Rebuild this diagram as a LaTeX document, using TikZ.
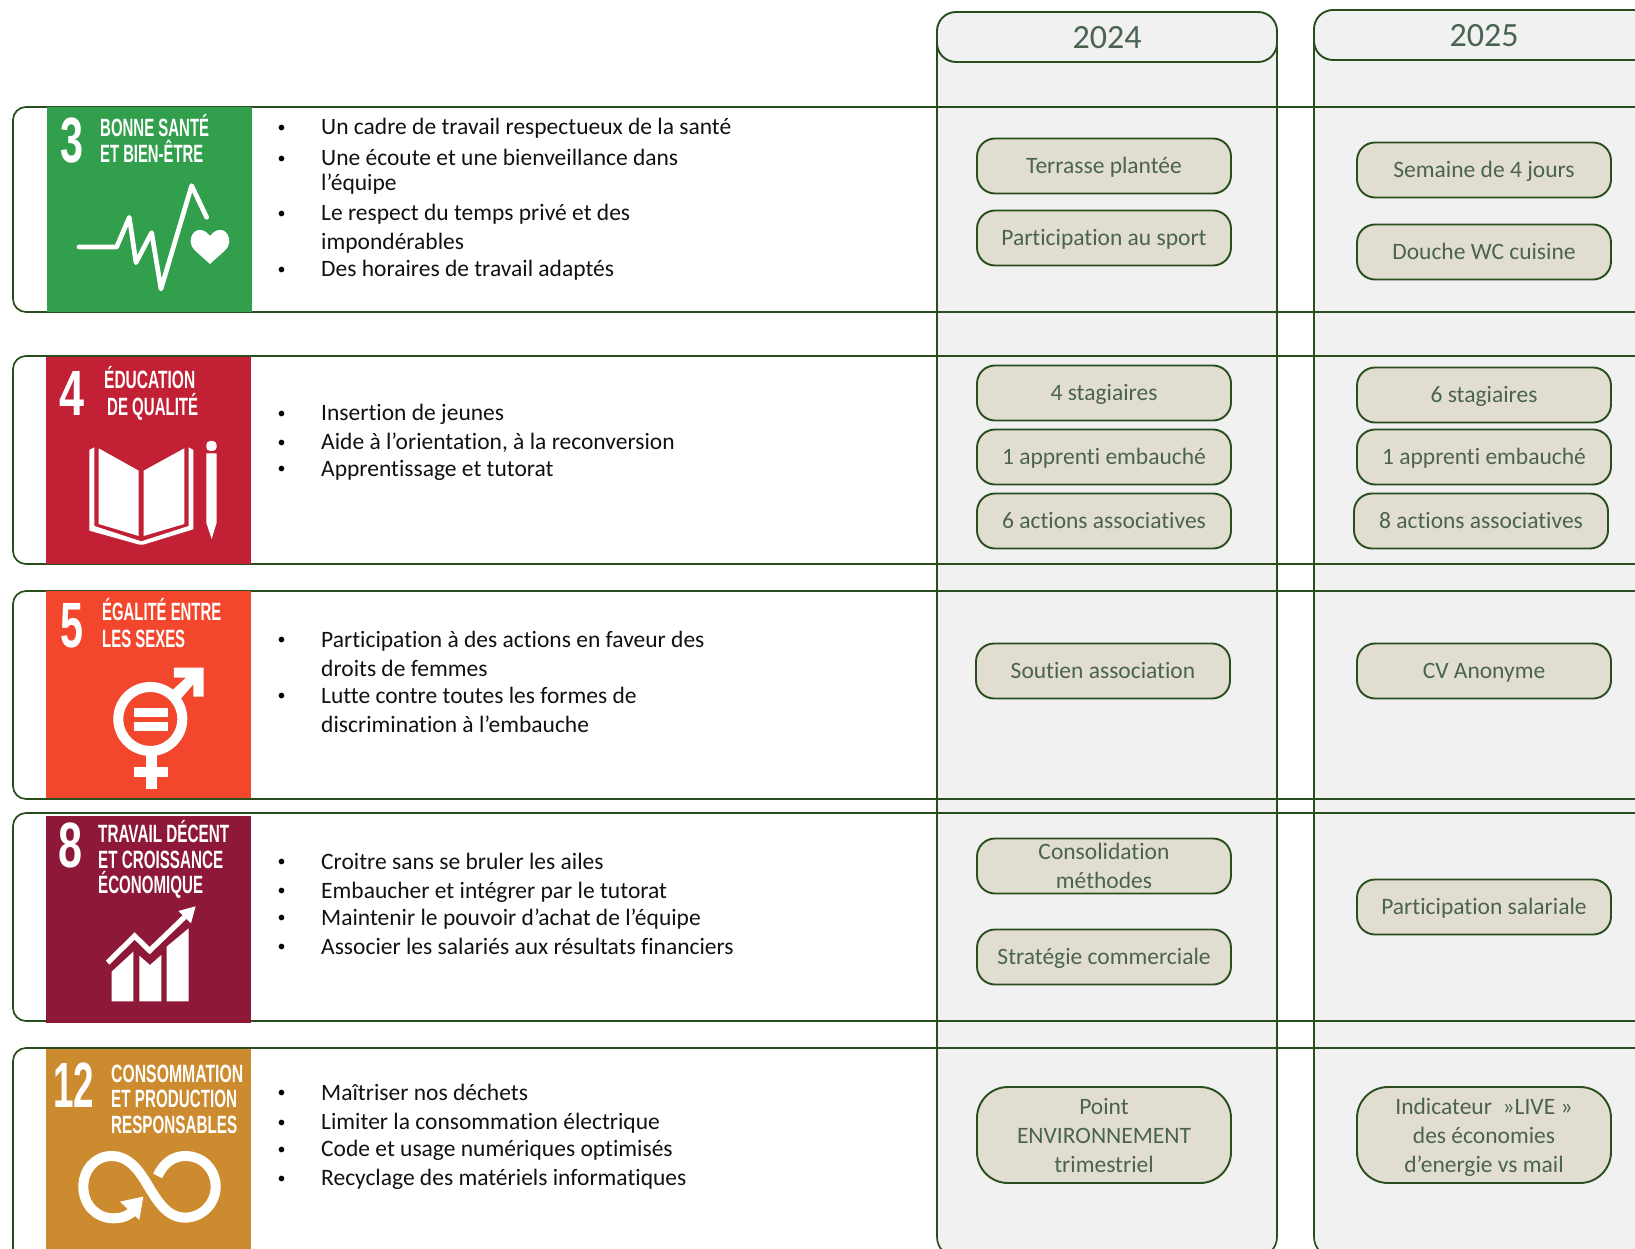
\documentclass[tikz,border=0pt]{standalone}
\usepackage{fontspec}
\usepackage{graphicx}
\setmainfont[Ligatures=NoCommon]{Carlito}
\newfontfamily\sdgfont{Liberation Sans}
\definecolor{lin}{HTML}{2A4D1E}
\definecolor{pan}{HTML}{F1F1F1}
\definecolor{pil}{HTML}{E2DDD1}
\definecolor{ink}{HTML}{4A6350}
\definecolor{body}{HTML}{111111}
\definecolor{gA}{HTML}{319F4B}
\definecolor{gB}{HTML}{C22035}
\definecolor{gC}{HTML}{F2472D}
\definecolor{gD}{HTML}{8E1838}
\definecolor{gE}{HTML}{CB8B2E}
\newcommand{\sdgline}[2]{\resizebox{#1pt}{\height}{#2}}
\tikzset{
  rowline/.style={draw=lin,line width=1.7pt,rounded corners=13pt},
  colbox/.style={draw=lin,line width=1.7pt,fill=pan},
  headbox/.style={draw=lin,line width=1.9pt,fill=pan,rounded corners=19pt},
  pillbase/.style={draw=lin,line width=1.9pt,fill=pil,rounded corners=18pt,text=ink,align=center,inner sep=0pt,
    minimum width=254pt,minimum height=55pt,font=\fontsize{23.5}{29}\selectfont},
  pill/.style={pillbase,text height=15pt,text depth=0pt},
  pilltwo/.style={pillbase},
  pillbig/.style={pillbase,rounded corners=31pt,minimum height=96pt},
  head/.style={text=ink,inner sep=0pt,font=\fontsize{34}{40}\selectfont},
  txt/.style={anchor=base west,inner sep=0pt,text=body,font=\fontsize{23.5}{28}\selectfont},
  dot/.style={anchor=base,inner sep=0pt,text=black,yshift=2.4pt,font=\fontsize{16}{20}\selectfont},
  sdg/.style={anchor=base west,inner sep=0pt,text=white,font=\sdgfont\bfseries\fontsize{25}{25}\selectfont},
  num/.style={anchor=base west,inner sep=0pt,text=white,font=\sdgfont\bfseries\fontsize{64}{64}\selectfont},
  ic/.style={shift={(0,#1)},x=0.3333pt,y=-0.3333pt},
}
\begin{document}
\begin{tikzpicture}[x=1pt,y=-1pt]
\useasboundingbox (0,0) rectangle (1635,1249);
\clip (0,0) rectangle (1635,1249);
% year columns
\path[colbox] (937,37) -- (937,1237) arc[start angle=180,end angle=270,radius=20pt] -- (1257,1257) arc[start angle=270,end angle=360,radius=20pt] -- (1277,37) -- cycle;
\path[colbox] (1314,35) -- (1314,1237) arc[start angle=180,end angle=270,radius=20pt] -- (1660,1257) -- (1660,35) -- cycle;
% row frames
\draw[rowline] (1660,107) -- (13,107) -- (13,312) -- (1660,312);
\draw[rowline] (1660,356) -- (13,356) -- (13,564) -- (1660,564);
\draw[rowline] (1660,591) -- (13,591) -- (13,799) -- (1660,799);
\draw[rowline] (1660,813) -- (13,813) -- (13,1021) -- (1660,1021);
\draw[rowline] (1660,1048) -- (13,1048) -- (13,1262) -- (1660,1262);
% headers
\path[headbox] (937,12) rectangle (1277,62);
\path[headbox] (1660,10) -- (1314,10) -- (1314,60) -- (1660,60);
\node[head] (y24) at (1107,38) {2024};
\node[head] (y25) at (1484,36) {2025};
% tiles
\fill[gA] (47,107) rectangle (252,312);
\fill[gB] (46,357) rectangle (251,564);
\fill[gC] (46,591) rectangle (251,798);
\fill[gD] (46,816) rectangle (251,1023);
\fill[gE] (46,1049) rectangle (251,1249);
% tile 3
\node[num] (n3) at (60,163) {\sdgline{23}{3}};
\node[sdg] (t3a) at (100,137) {\sdgline{109}{BONNE SANTÉ}};
\node[sdg] (t3b) at (100,163) {\sdgline{103}{ET BIEN-ÊTRE}};
\begin{scope}[ic=90]
\draw[white,line width=4.7pt,line cap=round,line join=round] (237,471) -- (350,471) -- (388,382) -- (408,518) -- (455,428) -- (483,597) -- (575,287) -- (620,382);
\fill[white] (630,438) .. controls (605,405) and (572,420) .. (572,455) .. controls (572,475) and (590,485) .. (630,522) .. controls (670,485) and (688,475) .. (688,455) .. controls (688,420) and (655,405) .. (630,438) -- cycle;
\end{scope}
% tile 4
\node[num] (n4) at (59,415) {\sdgline{25}{4}};
\node[sdg] (t4a) at (104,388) {\sdgline{91}{ÉDUCATION}};
\node[sdg] (t4b) at (107,415) {\sdgline{91}{DE QUALITÉ}};
\begin{scope}[ic=340]
\fill[white] (268,330) -- (283,322) -- (283,558) -- (424,604) -- (566,558) -- (566,322) -- (580,330) -- (580,568) -- (430,614) -- (418,614) -- (268,572) -- cycle;
\fill[white] (296,325) -- (416,392) -- (416,588) -- (296,552) -- cycle;
\fill[white] (431,392) -- (553,325) -- (553,552) -- (431,588) -- cycle;
\fill[white,rounded corners=4pt] (619,333) -- (619,303) -- (650,303) -- (650,333) -- cycle;
\fill[white] (619,340) -- (650,340) -- (650,548) -- (635,597) -- (619,548) -- cycle;
\end{scope}
% tile 5
\node[num] (n5) at (60,647) {\sdgline{23}{5}};
\node[sdg] (t5a) at (102,620) {\sdgline{119}{ÉGALITÉ ENTRE}};
\node[sdg] (t5b) at (102,647) {\sdgline{83}{LES SEXES}};
\begin{scope}[ic=340]
\draw[white,line width=10pt] (451,1137) circle[radius=96];
\fill[white] (401,1105) rectangle (503,1132);
\fill[white] (401,1147) rectangle (503,1173);
\fill[white] (522,983) -- (611,983) -- (611,1070) -- (580,1070) -- (580,1033) -- (541,1078) -- (518,1050) -- (558,1013) -- (522,1013) -- cycle;
\fill[white] (437,1240) rectangle (470,1346);
\fill[white] (402,1280) rectangle (505,1312);
\end{scope}
% tile 8
\node[num] (n8) at (58,867) {\sdgline{24}{8}};
\node[sdg] (t8a) at (98,842) {\sdgline{131}{TRAVAIL DÉCENT}};
\node[sdg] (t8b) at (98,868) {\sdgline{125}{ET CROISSANCE}};
\node[sdg] (t8c) at (98,893) {\sdgline{105}{ÉCONOMIQUE}};
\begin{scope}[ic=800]
\fill[white] (335,604) -- (335,515) -- (400,455) -- (400,604) -- cycle;
\fill[white] (418,604) -- (418,467) -- (450,495) -- (484,465) -- (484,604) -- cycle;
\fill[white] (500,604) -- (500,440) -- (566,385) -- (566,604) -- cycle;
\draw[white,line width=5.3pt] (323,488) -- (404,408) -- (449,452) -- (560,345);
\fill[white] (587,319) -- (535,333) -- (573,370) -- cycle;
\end{scope}
% tile 12
\node[num] (n12) at (53,1107) {\sdgline{41}{12}};
\node[sdg] (t12a) at (111,1082) {\sdgline{132}{CONSOMMATION}};
\node[sdg] (t12b) at (111,1107) {\sdgline{126}{ET PRODUCTION}};
\node[sdg] (t12c) at (111,1133) {\sdgline{126}{RESPONSABLES}};
\begin{scope}[ic=800]
\draw[white,line width=10pt] (473,1128) .. controls (490,1090) and (520,1068) .. (555,1068) .. controls (610,1068) and (647,1110) .. (647,1160) .. controls (647,1212) and (605,1253) .. (555,1253) .. controls (500,1253) and (470,1200) .. (440,1150) .. controls (410,1100) and (380,1068) .. (335,1068) .. controls (285,1068) and (250,1110) .. (250,1160) .. controls (250,1215) and (290,1255) .. (340,1255) .. controls (370,1255) and (390,1245) .. (405,1228);
\fill[white] (360,1205) -- (430,1190) -- (418,1260) -- cycle;
\end{scope}
% bullet texts row 3
\node[dot] (b3a) at (281.5,135) {•}; \node[txt] (l3a) at (321,135) {Un cadre de travail respectueux de la santé};
\node[dot] (b3b) at (281.5,165.5) {•}; \node[txt] (l3b) at (321,165.5) {Une écoute et une bienveillance dans};
\node[txt] (l3c) at (321,191) {l’équipe};
\node[dot] (b3d) at (281.5,221) {•}; \node[txt] (l3d) at (321,221) {Le respect du temps privé et des};
\node[txt] (l3e) at (321,249.5) {impondérables};
\node[dot] (b3f) at (281.5,276.5) {•}; \node[txt] (l3f) at (321,276.5) {Des horaires de travail adaptés};
% row 4
\node[dot] (b4a) at (281.5,420.5) {•}; \node[txt] (l4a) at (321,420.5) {Insertion de jeunes};
\node[dot] (b4b) at (281.5,449.5) {•}; \node[txt] (l4b) at (321,449.5) {Aide à l’orientation, à la reconversion};
\node[dot] (b4c) at (281.5,476) {•}; \node[txt] (l4c) at (321,476) {Apprentissage et tutorat};
% row 5
\node[dot] (b5a) at (281.5,647) {•}; \node[txt] (l5a) at (321,647) {Participation à des actions en faveur des};
\node[txt] (l5b) at (321,676) {droits de femmes};
\node[dot] (b5c) at (281.5,703) {•}; \node[txt] (l5c) at (321,703) {Lutte contre toutes les formes de};
\node[txt] (l5d) at (321,732) {discrimination à l’embauche};
% row 8
\node[dot] (b8a) at (281.5,869) {•}; \node[txt] (l8a) at (321,869) {Croitre sans se bruler les ailes};
\node[dot] (b8b) at (281.5,898) {•}; \node[txt] (l8b) at (321,898) {Embaucher et intégrer par le tutorat};
\node[dot] (b8c) at (281.5,925) {•}; \node[txt] (l8c) at (321,925) {Maintenir le pouvoir d’achat de l’équipe};
\node[dot] (b8d) at (281.5,954) {•}; \node[txt] (l8d) at (321,954) {Associer les salariés aux résultats financiers};
% row 12
\node[dot] (b12a) at (281.5,1100) {•}; \node[txt] (l12a) at (321,1100) {Maîtriser nos déchets};
\node[dot] (b12b) at (281.5,1129.5) {•}; \node[txt] (l12b) at (321,1129.5) {Limiter la consommation électrique};
\node[dot] (b12c) at (281.5,1156.5) {•}; \node[txt] (l12c) at (321,1156.5) {Code et usage numériques optimisés};
\node[dot] (b12d) at (281.5,1185.5) {•}; \node[txt] (l12d) at (321,1185.5) {Recyclage des matériels informatiques};
% pills 2024
\node[pill] (p1) at (1104,166) {Terrasse plantée};
\node[pill] (p2) at (1104,238) {Participation au sport};
\node[pill] (p3) at (1104,393) {4 stagiaires};
\node[pill] (p4) at (1104,457) {1 apprenti embauché};
\node[pill] (p5) at (1104,521) {6 actions associatives};
\node[pill] (p6) at (1103,671) {Soutien association};
\node[pilltwo] (p7) at (1104,866) {Consolidation\\méthodes};
\node[pill] (p8) at (1104,957) {Stratégie commerciale};
\node[pillbig] (p9) at (1104,1135) {Point\\ENVIRONNEMENT\\trimestriel};
% pills 2025
\node[pill] (q1) at (1484,170) {Semaine de 4 jours};
\node[pill] (q2) at (1484,252) {Douche WC cuisine};
\node[pill] (q3) at (1484,395) {6 stagiaires};
\node[pill] (q4) at (1484,457) {1 apprenti embauché};
\node[pill] (q5) at (1481,521) {8 actions associatives};
\node[pill] (q6) at (1484,671) {CV Anonyme};
\node[pill] (q7) at (1484,907) {Participation salariale};
\node[pillbig] (q8) at (1484,1135) {\rule{0pt}{22pt}Indicateur ~»LIVE »\\des économies\\d’energie vs mail};
\end{tikzpicture}
\end{document}
